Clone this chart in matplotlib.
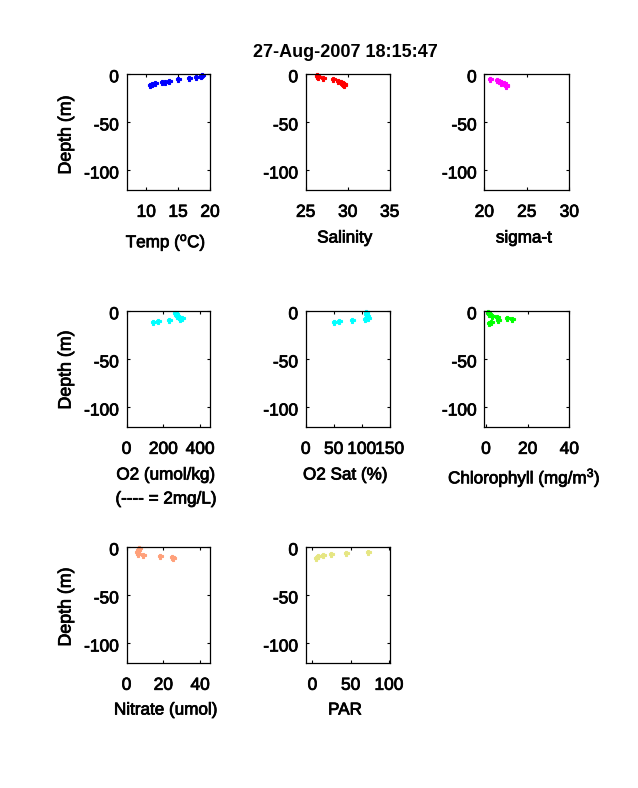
import matplotlib
matplotlib.use('Agg')
import matplotlib.pyplot as plt
import matplotlib.patheffects as pe
from matplotlib.transforms import ScaledTranslation

plt.rcParams['font.family'] = ['Liberation Sans', 'DejaVu Sans']
plt.rcParams['axes.unicode_minus'] = False
plt.rcParams['mathtext.default'] = 'regular'

# values
temp = [10.6, 10.9, 11.3, 12.4, 13.0, 13.5, 15.0, 16.7, 17.8, 18.6, 18.8]
temp_z = [-11.7, -10, -9.3, -8.6, -7.9, -6.9, -5.5, -4.5, -3.4, -2.4, -1]
sal = [26.3, 26.4, 26.5, 27.1, 28.2, 28.9, 29.2, 29.3, 29.4, 29.5, 29.5]
sal_z = [-1, -2.4, -3.4, -4.5, -5.5, -6.9, -8.3, -9.3, -10.3, -11.7, -10.8]
sigma = [20.7, 21.5, 21.7, 22.0, 22.3, 22.5, 22.6]
sigma_z = [-5.5, -6.6, -7.3, -9, -9.7, -11, -12]
o2 = [263, 270, 277, 286, 303, 290, 232, 169, 142]
o2_z = [-1.7, -3.5, -5.2, -6.6, -7, -8.3, -9.7, -10.8, -11.8]
o2sat = [107, 108, 109, 112, 106, 83, 60, 50]
o2sat_z = [-1.4, -3.5, -5.2, -7, -8.7, -9.7, -10.8, -11.8]
chl = [1.1, 1.6, 3, 5.4, 5.8, 10.2, 12.3, 2.2, 1.6]
chl_z = [-1.4, -3.1, -4.9, -5.9, -9, -7, -8.3, -11, -12.2]
nitrate = [6.7, 6.5, 5.6, 6.5, 8.8, 18.4, 24.5, 25.4]
nitrate_z = [-1, -2.8, -5.6, -7, -8.4, -9.4, -10.5, -11.9]
par = [72.4, 43.4, 23.7, 13.2, 7.9, 5.3]
par_z = [-5.6, -6.6, -7.3, -8.4, -9.8, -11.9]

depth_ticks = [0, -50, -100]
W, H = 638, 788
lefts = [126.5, 305.7, 484.3]
widths = [83.5, 84, 85]
tops = [74, 311, 547]
ax_h = 115.5

# the reference text is a heavy bitmap font, thicken the outlines a bit
heavy = [pe.withStroke(linewidth=0.55, foreground='black')]


def panel(row, col, x, z, color, xlim, xticks):
    l = lefts[col]
    b = tops[row] + ax_h
    ax = fig.add_axes([l / W, 1 - b / H, widths[col] / W, ax_h / H])
    ax.plot(x, z, linestyle='none', marker='P', ms=3.6, mew=0.8, mec=color, color=color, clip_on=False)
    ax.set_xlim(xlim)
    ax.set_ylim(-120, 0)
    ax.set_xticks(xticks)
    ax.set_xticklabels([str(t) for t in xticks])
    ax.set_yticks(depth_ticks)
    ax.set_yticklabels([str(t) for t in depth_ticks])
    ax.tick_params(direction='in', top=True, right=True, length=2.2, width=0.8,
                   labelsize=12.5, color='black')
    ax.tick_params(axis='x', pad=11)
    ax.tick_params(axis='y', pad=5.5)
    # y tick labels sit a little below their ticks
    for lab in ax.get_yticklabels():
        lab.set_transform(lab.get_transform() + ScaledTranslation(0, -1.6 / 72, fig.dpi_scale_trans))
        lab.set_path_effects(heavy)
    for lab in ax.get_xticklabels():
        lab.set_path_effects(heavy)
    for s in ax.spines.values():
        s.set_linewidth(0.9)
    return ax


def label(x, y, s, **kw):
    fig.text(x / W, 1 - y / H, s, ha='center', va='center', fontsize=12.3, path_effects=heavy, **kw)


fig = plt.figure(figsize=(6.38, 7.88), dpi=100)

panel(0, 0, temp, temp_z, '#0000ff', (6.9, 20), [10, 15, 20])
panel(0, 1, sal, sal_z, '#ff0000', (25, 35), [25, 30, 35])
panel(0, 2, sigma, sigma_z, '#ff00ff', (20, 30), [20, 25, 30])
panel(1, 0, o2, o2_z, '#00ffff', (0, 454), [0, 200, 400])
panel(1, 1, o2sat, o2sat_z, '#00ffff', (0, 150), [0, 50, 100, 150])
panel(1, 2, chl, chl_z, '#00ff00', (-0.8, 40), [0, 20, 40])
panel(2, 0, nitrate, nitrate_z, '#ffa07a', (0, 45.4), [0, 20, 40])
panel(2, 1, par, par_z, '#e6e682', (-8.8, 101), [0, 50, 100])

label(166, 242.5, r'Temp ($^{o}$C)')
label(345, 238, 'Salinity')
label(524, 238, 'sigma-t')
label(166, 475, 'O2 (umol/kg)')
label(166, 499, '(---- = 2mg/L)')
label(345.5, 475, 'O2 Sat (%)')
label(524.5, 477.5, r'Chlorophyll (mg/m$^{3}$)')
label(166, 710, 'Nitrate (umol)')
label(345, 710, 'PAR')

for yc in [135, 370, 607]:
    fig.text(66 / W, 1 - yc / H, 'Depth (m)', rotation=90, ha='center', va='center',
             fontsize=12.8, path_effects=heavy)

fig.text(345 / W, 1 - 52.5 / H, '27-Aug-2007 18:15:47', ha='center', va='center',
         fontsize=13, fontweight='bold')

fig.savefig('out.png', dpi=100)
